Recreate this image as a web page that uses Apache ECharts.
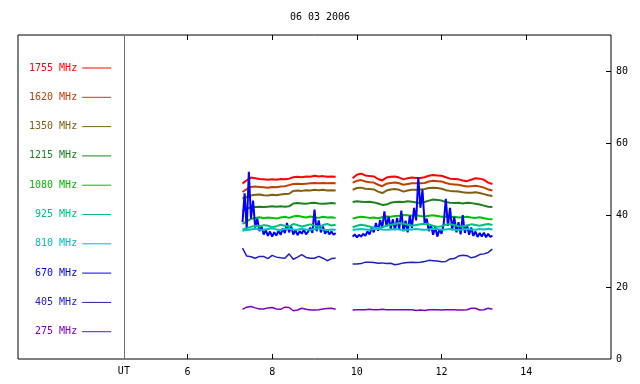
<!DOCTYPE html>
<html>
<head>
<meta charset="utf-8">
<script src="https://cdn.jsdelivr.net/npm/echarts@6.0.0/dist/echarts.min.js"></script>
<style>
  html, body { margin: 0; padding: 0; background: #fff; }
  #radio-flux-chart { width: 640px; height: 384px; }
</style>
</head>
<body>
<div id="radio-flux-chart"></div>
<script>
// UT hours, 0.1 h steps (two observing runs)
const t1 = [7.3, 7.4, 7.5, 7.6, 7.7, 7.8, 7.9, 8.0, 8.1, 8.2, 8.3, 8.4, 8.5, 8.6, 8.7, 8.8, 8.9, 9.0, 9.1, 9.2, 9.3, 9.4, 9.5]
const t2 = [9.9, 10.0, 10.1, 10.2, 10.3, 10.4, 10.5, 10.6, 10.7, 10.8, 10.9, 11.0, 11.1, 11.2, 11.3, 11.4, 11.5, 11.6, 11.7, 11.8,
  11.9, 12.0, 12.1, 12.2, 12.3, 12.4, 12.5, 12.6, 12.7, 12.8, 12.9, 13.0, 13.1, 13.2]
// finer steps for the noisy 670 MHz channel
const f1 = [7.30, 7.35, 7.40, 7.45, 7.50, 7.55, 7.60, 7.65, 7.70, 7.75, 7.80, 7.85, 7.90, 7.95, 8.00, 8.05, 8.10, 8.15, 8.20, 8.25,
  8.30, 8.35, 8.40, 8.45, 8.50, 8.55, 8.60, 8.65, 8.70, 8.75, 8.80, 8.85, 8.90, 8.95, 9.00, 9.05, 9.10, 9.15, 9.20, 9.25,
  9.30, 9.35, 9.40, 9.45, 9.50]
const f2 = [9.90, 9.95, 10.00, 10.05, 10.10, 10.15, 10.20, 10.25, 10.30, 10.35, 10.40, 10.45, 10.50, 10.55, 10.60, 10.65, 10.70,
  10.75, 10.80, 10.85, 10.90, 10.95, 11.00, 11.05, 11.10, 11.15, 11.20, 11.25, 11.30, 11.35, 11.40, 11.45, 11.50, 11.55,
  11.60, 11.65, 11.70, 11.75, 11.80, 11.85, 11.90, 11.95, 12.00, 12.05, 12.10, 12.15, 12.20, 12.25, 12.30, 12.35, 12.40,
  12.45, 12.50, 12.55, 12.60, 12.65, 12.70, 12.75, 12.80, 12.85, 12.90, 12.95, 13.00, 13.05, 13.10, 13.15, 13.20]
const gapT = 9.7

const names = ['1755 MHz', '1620 MHz', '1350 MHz', '1215 MHz', '1080 MHz', '925 MHz', '810 MHz', '670 MHz', '405 MHz', '275 MHz']
const colors = ['#ff0000', '#c04000', '#806010', '#208020', '#00c000', '#00c080', '#00c0c0', '#0000ff', '#2020c0', '#8000c0']

const f1755a = [48.8, 49.6, 50.4, 50.2, 50.0, 49.9, 49.8, 49.9, 49.8, 50.0, 49.9, 50.1, 50.5, 50.6, 50.5, 50.7, 50.6, 50.9, 50.7, 50.8, 50.6, 50.7, 50.6]
const f1755b = [50.2, 51.2, 51.5, 51.0, 50.8, 50.7, 50.0, 49.6, 50.4, 50.6, 50.7, 50.4, 49.9, 50.2, 50.4, 50.3, 50.3, 50.5, 50.9, 51.1,
  51.0, 50.9, 50.5, 50.1, 50.0, 49.9, 49.6, 49.4, 49.8, 50.2, 50.1, 49.8, 49.0, 48.6]
const f1620a = [46.4, 47.2, 47.8, 47.9, 47.8, 47.7, 47.6, 47.8, 47.7, 47.9, 48.0, 48.3, 48.6, 48.7, 48.6, 48.7, 48.8, 48.9, 48.8, 48.9, 48.8, 48.9, 48.8]
const f1620b = [49.0, 49.5, 49.7, 49.3, 49.1, 49.0, 48.4, 48.0, 48.7, 48.9, 49.0, 48.8, 48.4, 48.6, 48.8, 48.8, 48.8, 48.9, 49.3, 49.5,
  49.4, 49.3, 48.9, 48.6, 48.5, 48.4, 48.1, 47.9, 48.0, 48.1, 47.9, 47.6, 47.1, 46.8]
const f1350a = [44.6, 45.0, 45.4, 45.6, 45.7, 45.5, 45.4, 45.6, 45.5, 45.7, 45.8, 45.9, 46.7, 46.8, 46.7, 46.9, 46.8, 47.0, 46.9, 47.0, 46.8, 46.9, 46.8]
const f1350b = [47.0, 47.5, 47.6, 47.3, 47.2, 47.1, 46.5, 46.1, 46.8, 47.1, 47.2, 47.0, 46.5, 46.8, 47.0, 47.0, 47.1, 47.2, 47.5, 47.6,
  47.5, 47.3, 46.9, 46.7, 46.6, 46.5, 46.3, 46.2, 46.2, 46.3, 46.1, 45.8, 45.5, 45.3]
const f1215a = [41.0, 41.8, 42.1, 42.2, 42.3, 42.2, 42.3, 42.4, 42.3, 42.4, 42.3, 42.4, 43.2, 43.3, 43.2, 43.1, 43.3, 43.4, 43.2, 43.1, 43.2, 43.3, 43.2]
const f1215b = [43.6, 43.8, 43.7, 43.6, 43.7, 43.5, 43.2, 42.8, 42.9, 43.4, 43.6, 43.7, 43.6, 43.8, 43.7, 43.5, 43.3, 43.6, 44.0, 44.3,
  44.2, 44.0, 43.6, 43.4, 43.3, 43.4, 43.2, 43.4, 43.3, 43.1, 42.9, 42.6, 42.3, 42.2]
const f1080a = [37.5, 38.2, 38.9, 39.2, 39.4, 39.1, 39.3, 39.2, 39.0, 39.3, 39.5, 39.2, 39.6, 39.8, 39.5, 39.3, 39.6, 39.4, 39.2, 39.5, 39.3, 39.4, 39.2]
const f1080b = [39.0, 39.3, 39.5, 39.4, 39.2, 39.3, 39.1, 39.4, 39.6, 39.5, 39.7, 39.8, 40.0, 39.9, 39.8, 39.9, 39.7, 39.6, 39.8, 39.9,
  39.7, 39.5, 39.6, 39.4, 39.5, 39.3, 39.4, 39.5, 39.3, 39.2, 39.4, 39.1, 38.9, 38.8]
const f925a = [36.0, 36.3, 36.7, 37.0, 36.8, 37.2, 37.0, 36.6, 36.9, 37.3, 37.0, 36.8, 37.5, 37.2, 36.8, 37.1, 37.4, 37.0, 36.8, 37.2, 37.5, 37.1, 37.3]
const f925b = [36.6, 37.0, 37.3, 37.1, 36.8, 36.5, 36.4, 36.6, 37.0, 37.3, 37.5, 37.8, 37.6, 37.3, 37.0, 37.2, 37.4, 37.6, 37.4, 37.0,
  36.7, 36.9, 37.3, 37.5, 37.2, 36.9, 36.8, 37.1, 37.4, 37.2, 37.0, 37.3, 37.5, 37.2]
const f810a = [35.6, 35.8, 36.0, 36.2, 36.0, 35.9, 36.1, 36.3, 36.0, 35.8, 36.1, 36.2, 36.0, 35.9, 36.2, 36.0, 35.9, 36.1, 36.3, 36.0, 35.8, 36.0, 35.9]
const f810b = [35.9, 36.0, 36.1, 36.0, 35.9, 36.1, 36.2, 36.0, 35.9, 36.0, 36.1, 36.0, 35.8, 35.9, 36.0, 36.1, 36.0, 35.9, 36.0, 36.2,
  36.1, 35.9, 36.0, 36.1, 35.9, 35.8, 36.0, 36.1, 36.0, 35.9, 36.1, 36.0, 36.2, 36.0]
const f670a = [38.0, 46.0, 36.0, 52.0, 39.0, 44.0, 36.5, 39.0, 35.5, 36.8, 34.6, 35.8, 34.2, 35.4, 34.0, 35.2, 34.3, 35.6, 34.5, 36.2,
  35.0, 37.8, 35.2, 36.8, 34.6, 35.8, 34.4, 35.5, 34.8, 36.0, 34.6, 35.4, 36.5, 35.0, 41.5, 35.5, 38.5, 35.2, 36.8, 34.8,
  35.9, 34.6, 35.4, 34.5, 35.0]
const f670b = [34.0, 34.6, 33.8, 34.5, 34.0, 34.8, 34.2, 35.4, 34.6, 36.5, 35.2, 37.8, 35.6, 38.6, 36.4, 41.0, 36.8, 39.5, 36.2, 38.8,
  35.8, 39.2, 36.0, 41.2, 35.5, 38.4, 35.2, 39.8, 36.4, 42.0, 38.5, 50.5, 42.0, 47.0, 37.5, 39.0, 35.5, 37.2, 34.5, 36.6,
  34.0, 36.0, 34.8, 37.5, 44.5, 37.0, 42.0, 35.8, 39.5, 35.2, 38.0, 34.6, 40.0, 35.0, 37.2, 34.5, 36.5, 34.2, 35.4, 33.9,
  35.0, 34.0, 35.1, 33.8, 34.8, 33.9, 34.3]
const f405a = [30.8, 28.6, 28.4, 28.0, 28.5, 28.5, 27.9, 28.8, 28.3, 28.1, 28.0, 29.2, 27.7, 28.3, 29.0, 28.2, 28.0, 28.0, 28.5, 28.0, 27.3, 27.9, 28.0]
const f405b = [26.4, 26.4, 26.5, 26.9, 26.9, 26.8, 26.6, 26.7, 26.5, 26.6, 26.2, 26.4, 26.7, 26.8, 26.9, 26.8, 26.9, 27.1, 27.4, 27.3,
  27.2, 27.0, 27.1, 27.8, 27.9, 28.6, 28.8, 28.7, 28.1, 28.4, 29.0, 29.2, 29.6, 30.5]
const f275a = [13.8, 14.4, 14.6, 14.2, 13.9, 13.9, 14.2, 14.3, 13.9, 13.8, 14.4, 14.3, 13.4, 13.6, 14.1, 13.8, 13.6, 13.6, 13.7, 13.9, 14.0, 14.1, 13.8]
const f275b = [13.6, 13.7, 13.7, 13.7, 13.8, 13.7, 13.7, 13.8, 13.7, 13.7, 13.7, 13.7, 13.7, 13.7, 13.7, 13.5, 13.6, 13.5, 13.7, 13.7,
  13.7, 13.6, 13.7, 13.7, 13.7, 13.6, 13.6, 13.7, 14.1, 14.1, 13.6, 13.7, 14.1, 13.8]

// axis ranges and tick positions (UT hours / flux units)
const utMin = 2
const utMax = 16
const utDivider = 4.5
const fluxMin = 0
const fluxMax = 90
const xTicks = [6, 8, 10, 12, 14]
const yTicks = [20, 40, 60, 80]

function runs(ta, va, tb, vb) {
  const out = ta.map((t, i) => [t, va[i]])
  out.push([gapT, '-'])
  return out.concat(tb.map((t, i) => [t, vb[i]]))
}

const seriesData = {
  '1755 MHz': runs(t1, f1755a, t2, f1755b),
  '1620 MHz': runs(t1, f1620a, t2, f1620b),
  '1350 MHz': runs(t1, f1350a, t2, f1350b),
  '1215 MHz': runs(t1, f1215a, t2, f1215b),
  '1080 MHz': runs(t1, f1080a, t2, f1080b),
  '925 MHz': runs(t1, f925a, t2, f925b),
  '810 MHz': runs(t1, f810a, t2, f810b),
  '670 MHz': runs(f1, f670a, f2, f670b),
  '405 MHz': runs(t1, f405a, t2, f405b),
  '275 MHz': runs(t1, f275a, t2, f275b)
}

// drawing order (last on top)
const drawOrder = ['275 MHz', '405 MHz', '1755 MHz', '1620 MHz', '1350 MHz', '1215 MHz', '1080 MHz', '670 MHz', '925 MHz', '810 MHz']

const font = 'DejaVu Sans Mono'
const myChart = echarts.init(document.getElementById('radio-flux-chart'))

// plot box in pixels; the label grid covers only the 6..14 h span of it
const box = { left: 18, right: 611, top: 35, bottom: 359 }
const pxPerHour = (box.right - box.left) / (utMax - utMin)
const pxPerFlux = (box.bottom - box.top) / (fluxMax - fluxMin)
const labelGridLeft = box.left + (xTicks[0] - utMin) * pxPerHour
const labelGridRight = box.left + (xTicks[xTicks.length - 1] - utMin) * pxPerHour
const tickPx = 5
const tickH = tickPx / pxPerFlux
const tickW = tickPx / pxPerHour

// inward tick marks (top, bottom, right) plus the grey UT divider
const frameLines = [{ xAxis: utDivider, lineStyle: { color: '#707070' } }]
xTicks.forEach(function(t) {
  frameLines.push([{ coord: [t, fluxMin] }, { coord: [t, fluxMin + tickH] }])
  frameLines.push([{ coord: [t, fluxMax - tickH] }, { coord: [t, fluxMax] }])
})
yTicks.forEach(function(v) {
  frameLines.push([{ coord: [utMax - tickW, v] }, { coord: [utMax, v] }])
})

const series = drawOrder.map(function(name) {
  const idx = names.indexOf(name)
  const s = {
    name: name,
    type: 'line',
    xAxisIndex: 0,
    yAxisIndex: 0,
    data: seriesData[name],
    symbol: 'none',
    connectNulls: false,
    color: colors[idx],
    lineStyle: { color: colors[idx], width: idx >= 8 ? 1.5 : 2 },
    silent: true
  }
  if (name === '275 MHz') {
    s.markLine = {
      silent: true,
      symbol: ['none', 'none'],
      label: { show: false },
      lineStyle: { color: '#000', type: 'solid', width: 1 },
      data: frameLines
    }
  }
  return s
})

const labelText = { color: '#000', fontFamily: font, fontSize: 10 }

const option = {
  animation: false,
  backgroundColor: '#fff',
  title: {
    text: '06 03 2006',
    left: 'center',
    top: 12,
    padding: 0,
    textStyle: { fontFamily: font, fontSize: 10, fontWeight: 'normal', color: '#000' }
  },
  legend: {
    orient: 'vertical',
    align: 'right',
    left: 29,
    top: 61,
    padding: 0,
    itemWidth: 29,
    itemHeight: 1,
    itemGap: 15.3,
    icon: 'rect',
    selectedMode: false,
    textStyle: { fontFamily: font, fontSize: 10, lineHeight: 14 },
    data: names.map((n, i) => ({ name: n, textStyle: { color: colors[i] } }))
  },
  grid: [
    {
      left: box.left,
      right: 640 - box.right,
      top: box.top,
      bottom: 384 - box.bottom,
      show: true,
      borderColor: '#000',
      borderWidth: 1,
      backgroundColor: 'transparent'
    },
    {
      left: labelGridLeft,
      right: 640 - labelGridRight,
      top: box.top,
      bottom: 384 - box.bottom,
      show: false
    }
  ],
  xAxis: [
    {
      // data axis, only carries the "UT" label
      gridIndex: 0,
      type: 'value',
      min: utMin,
      max: utMax,
      interval: 0.5,
      position: 'bottom',
      axisLine: { show: false, onZero: false },
      splitLine: { show: false },
      axisTick: { show: false },
      axisLabel: Object.assign({
        margin: 7,
        formatter: v => (v === utDivider ? 'UT' : '')
      }, labelText)
    },
    {
      gridIndex: 1,
      type: 'value',
      min: xTicks[0],
      max: xTicks[xTicks.length - 1],
      interval: 2,
      position: 'bottom',
      axisLine: { show: false, onZero: false },
      splitLine: { show: false },
      axisTick: { show: false },
      axisLabel: Object.assign({ margin: 8 }, labelText)
    }
  ],
  yAxis: [
    {
      gridIndex: 0,
      type: 'value',
      min: fluxMin,
      max: fluxMax,
      interval: 20,
      position: 'right',
      axisLine: { show: false, onZero: false },
      splitLine: { show: false },
      axisTick: { show: false },
      axisLabel: Object.assign({
        margin: 5,
        formatter: v => (v % 20 === 0 ? String(v) : '')
      }, labelText)
    },
    {
      gridIndex: 1,
      type: 'value',
      min: fluxMin,
      max: fluxMax,
      show: false
    }
  ],
  series: series
}

myChart.setOption(option)
</script>
</body>
</html>
